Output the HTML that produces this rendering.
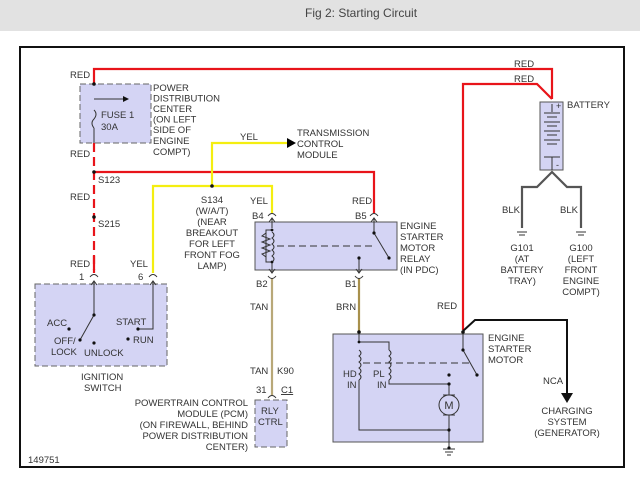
<!DOCTYPE html>
<html><head><style>
html,body{margin:0;padding:0;background:#fff;}
svg{display:block;font-family:"Liberation Sans",Arial,sans-serif;}
text{font-size:9.5px;fill:#333;}
</style></head><body>
<svg width="640" height="480" viewBox="0 0 640 480" xmlns="http://www.w3.org/2000/svg">
<rect x="0" y="0" width="640" height="31" fill="#e2e2e2"/>
<text x="305" y="17" style="font-size:12px;fill:#444">Fig 2: Starting Circuit</text>
<rect x="20" y="47" width="604" height="420" fill="#fff" stroke="#111" stroke-width="2"/>

<rect x="80" y="84" width="71" height="59" fill="#d4d4f4" stroke="#666" stroke-dasharray="6,3"/>
<rect x="255" y="222" width="142" height="48" fill="#d4d4f4" stroke="#555"/>
<rect x="35" y="284" width="132" height="82" fill="#d4d4f4" stroke="#666" stroke-dasharray="6,3"/>
<rect x="255" y="400" width="32" height="47" fill="#d4d4f4" stroke="#666" stroke-dasharray="6,3"/>
<rect x="333" y="334" width="150" height="108" fill="#d4d4f4" stroke="#555"/>
<rect x="540" y="102" width="23" height="68" fill="#d4d4f4" stroke="#555"/>

<g fill="none" stroke="#e8141a" stroke-width="2.2">
<polyline points="94,84 94,69 552,69 552,99"/>
<polyline points="463,330 463,84 537,84 552,99"/>
<polyline points="94,172 374,172 374,213"/>
<line x1="94" y1="143" x2="94" y2="270" stroke-dasharray="9,5"/>
<line x1="94" y1="256" x2="94" y2="273"/>
</g>
<g fill="none" stroke="#f4ee10" stroke-width="2.2">
<polyline points="212,186 212,143 288,143"/>
<polyline points="153,273 153,186 272,186 272,213"/>
</g>
<polygon points="287,138 296,143 287,148" fill="#000"/>
<line x1="272" y1="278" x2="272" y2="395" stroke="#b8a878" stroke-width="2.2"/>
<line x1="359" y1="278" x2="359" y2="332" stroke="#a8904c" stroke-width="2.2"/>
<polyline points="463,331 475,320 567,320 567,395" fill="none" stroke="#111" stroke-width="2"/>
<polygon points="561,393 573,393 567,403" fill="#111"/>

<g fill="#111">
<circle cx="94" cy="84" r="1.8"/><circle cx="94" cy="172" r="1.8"/><circle cx="94" cy="217" r="1.8"/>
<circle cx="212" cy="186" r="1.8"/><circle cx="463" cy="332" r="1.8"/><circle cx="359" cy="332" r="1.8"/>
</g>

<g fill="none" stroke="#333" stroke-width="1">
<line x1="94" y1="99" x2="124" y2="99"/>
<path d="M94,110 q4,4 0,9 q-4,4 0,9"/>
<line x1="94" y1="128" x2="94" y2="143"/>
</g>
<polygon points="123,96 129,99 123,102" fill="#111"/>

<g fill="none" stroke="#333" stroke-width="1">
<path d="M268,216 q4,-5 8,0"/><path d="M370,216 q4,-5 8,0"/>
<path d="M268,276 q4,5 8,0"/><path d="M355,276 q4,5 8,0"/>
<path d="M90,277 q4,-5 8,0"/><path d="M149,277 q4,-5 8,0"/>
<path d="M268,398 q4,-5 8,0"/>
</g>

<g fill="none" stroke="#333" stroke-width="1">
<polyline points="272,218 272,228"/><polyline points="269,222 272,218 275,222"/>
<polyline points="272,230 266,230 266,262 272,262"/>
<path d="M266,233 l-4,3 l8,3 l-8,3 l8,3 l-8,3 l8,3 l-8,3 l4,3"/>
<path d="M272,232 q4,3 0,6 q4,3 0,6 q4,3 0,6 q4,3 0,6 q4,3 0,6"/>
<line x1="272" y1="262" x2="272" y2="273"/><polyline points="269,269 272,273 275,269"/>
<line x1="277" y1="246" x2="376" y2="246" stroke-dasharray="7,4"/>
<line x1="374" y1="218" x2="374" y2="233"/><polyline points="371,222 374,218 377,222"/>
<line x1="374" y1="233" x2="389" y2="258"/>
<line x1="359" y1="258" x2="359" y2="273"/><polyline points="356,269 359,273 362,269"/>
</g>
<g fill="#111"><circle cx="374" cy="233" r="1.6"/><circle cx="389" cy="258" r="1.6"/><circle cx="359" cy="258" r="1.6"/><circle cx="272" cy="230" r="1.4"/><circle cx="272" cy="262" r="1.4"/></g>

<g fill="none" stroke="#333" stroke-width="1">
<line x1="94" y1="281" x2="94" y2="315"/><polyline points="91,285 94,281 97,285"/>
<line x1="94" y1="315" x2="80" y2="340"/>
<polyline points="138,329 153,329 153,281"/><polyline points="150,285 153,281 156,285"/>
</g>
<g fill="#111"><circle cx="94" cy="315" r="1.6"/><circle cx="80" cy="340" r="1.6"/><circle cx="69" cy="329" r="1.6"/><circle cx="138" cy="329" r="1.6"/><circle cx="94" cy="343" r="1.6"/><circle cx="128" cy="339" r="1.6"/></g>

<g fill="none" stroke="#333" stroke-width="1">
<polyline points="359,334 359,342 389,342 389,350"/>
<path d="M359,350 q4,3 0,6 q4,3 0,6 q4,3 0,6 q4,3 0,6 q4,3 0,6"/>
<path d="M389,350 q4,3 0,6 q4,3 0,6 q4,3 0,6 q4,3 0,6 q4,3 0,6"/>
<polyline points="359,380 359,430 449,430"/>
<polyline points="389,380 389,384 449,384 449,395"/>
<line x1="449" y1="415" x2="449" y2="448"/>
<circle cx="449" cy="405" r="10"/>
<line x1="443" y1="395" x2="455" y2="395"/><line x1="443" y1="415" x2="455" y2="415"/>
<line x1="363" y1="363" x2="470" y2="363" stroke-dasharray="7,4"/>
<line x1="463" y1="334" x2="463" y2="350"/><line x1="463" y1="350" x2="477" y2="375"/>
<line x1="443" y1="449" x2="455" y2="449"/><line x1="445" y1="452" x2="453" y2="452"/><line x1="447" y1="455" x2="451" y2="455"/>
</g>
<text x="449" y="409" text-anchor="middle" style="font-size:11px">M</text>
<g fill="#111"><circle cx="463" cy="350" r="1.6"/><circle cx="477" cy="375" r="1.6"/><circle cx="449" cy="375" r="1.6"/><circle cx="449" cy="384" r="1.6"/><circle cx="449" cy="430" r="1.6"/><circle cx="359" cy="342" r="1.4"/><circle cx="449" cy="448" r="1.6"/></g>

<g fill="none" stroke="#333" stroke-width="1">
<line x1="552" y1="104" x2="552" y2="112"/>
<line x1="544" y1="113" x2="560" y2="113"/><line x1="547" y1="117" x2="557" y2="117"/>
<line x1="544" y1="122" x2="560" y2="122"/><line x1="547" y1="126" x2="557" y2="126"/>
<line x1="544" y1="131" x2="560" y2="131"/><line x1="547" y1="135" x2="557" y2="135"/>
<line x1="544" y1="140" x2="560" y2="140"/><line x1="547" y1="144" x2="557" y2="144"/>
<line x1="544" y1="157" x2="560" y2="157"/><line x1="552" y1="157" x2="552" y2="170"/>
</g>
<text x="556" y="109" style="font-size:9px">+</text><text x="556" y="168" style="font-size:9px">-</text>
<polyline points="522,228 522,187 537,187 552,172 567,187 581,187 581,228" fill="none" stroke="#555" stroke-width="2.2"/>
<g stroke="#333"><line x1="517" y1="232" x2="527" y2="232"/><line x1="519" y1="235" x2="525" y2="235"/><line x1="576" y1="232" x2="586" y2="232"/><line x1="578" y1="235" x2="584" y2="235"/></g>

<text x="70" y="78">RED</text>
<text x="153" y="91">POWER</text><text x="153" y="101.5">DISTRIBUTION</text><text x="153" y="112">CENTER</text><text x="153" y="122.5">(ON LEFT</text><text x="153" y="133">SIDE OF</text><text x="153" y="144">ENGINE</text><text x="153" y="155">COMPT)</text>
<text x="101" y="118">FUSE 1</text><text x="101" y="130">30A</text>
<text x="70" y="157">RED</text><text x="98" y="183">S123</text>
<text x="70" y="200">RED</text><text x="98" y="227">S215</text>
<text x="240" y="140">YEL</text>
<text x="297" y="136">TRANSMISSION</text><text x="297" y="147">CONTROL</text><text x="297" y="158">MODULE</text>
<text x="212" y="203" text-anchor="middle">S134</text><text x="212" y="214" text-anchor="middle">(W/A/T)</text><text x="212" y="225" text-anchor="middle">(NEAR</text><text x="212" y="236" text-anchor="middle">BREAKOUT</text><text x="212" y="247" text-anchor="middle">FOR LEFT</text><text x="212" y="258" text-anchor="middle">FRONT FOG</text><text x="212" y="269" text-anchor="middle">LAMP)</text>
<text x="250" y="204">YEL</text><text x="252" y="219">B4</text>
<text x="352" y="204">RED</text><text x="355" y="219">B5</text>
<text x="400" y="229">ENGINE</text><text x="400" y="240">STARTER</text><text x="400" y="251">MOTOR</text><text x="400" y="262">RELAY</text><text x="400" y="273">(IN PDC)</text>
<text x="256" y="287">B2</text><text x="345" y="287">B1</text>
<text x="250" y="310">TAN</text><text x="336" y="310">BRN</text>
<text x="70" y="267">RED</text><text x="130" y="267">YEL</text>
<text x="79" y="280">1</text><text x="138" y="280">6</text>
<text x="47" y="326">ACC</text><text x="116" y="325">START</text><text x="54" y="344">OFF/</text><text x="51" y="355">LOCK</text><text x="84" y="356">UNLOCK</text><text x="133" y="343">RUN</text>
<text x="81" y="380">IGNITION</text><text x="84" y="391">SWITCH</text>
<text x="250" y="374">TAN</text><text x="277" y="374">K90</text>
<text x="256" y="393">31</text><text x="281" y="393" text-decoration="underline">C1</text>
<text x="248" y="406" text-anchor="end">POWERTRAIN CONTROL</text><text x="248" y="417" text-anchor="end">MODULE (PCM)</text><text x="248" y="428" text-anchor="end">(ON FIREWALL, BEHIND</text><text x="248" y="439" text-anchor="end">POWER DISTRIBUTION</text><text x="248" y="450" text-anchor="end">CENTER)</text>
<text x="261" y="414">RLY</text><text x="258" y="425">CTRL</text>
<text x="28" y="463">149751</text>
<text x="514" y="67">RED</text><text x="514" y="82">RED</text>
<text x="567" y="108">BATTERY</text>
<text x="502" y="213">BLK</text><text x="560" y="213">BLK</text>
<text x="522" y="251" text-anchor="middle">G101</text><text x="522" y="262" text-anchor="middle">(AT</text><text x="522" y="273" text-anchor="middle">BATTERY</text><text x="522" y="284" text-anchor="middle">TRAY)</text>
<text x="581" y="251" text-anchor="middle">G100</text><text x="581" y="262" text-anchor="middle">(LEFT</text><text x="581" y="273" text-anchor="middle">FRONT</text><text x="581" y="284" text-anchor="middle">ENGINE</text><text x="581" y="295" text-anchor="middle">COMPT)</text>
<text x="437" y="309">RED</text>
<text x="488" y="341">ENGINE</text><text x="488" y="352">STARTER</text><text x="488" y="363">MOTOR</text>
<text x="543" y="384">NCA</text>
<text x="567" y="414" text-anchor="middle">CHARGING</text><text x="567" y="425" text-anchor="middle">SYSTEM</text><text x="567" y="436" text-anchor="middle">(GENERATOR)</text>
<text x="343" y="377">HD</text><text x="347" y="388">IN</text><text x="373" y="377">PL</text><text x="377" y="388">IN</text>
</svg>
</body></html>
